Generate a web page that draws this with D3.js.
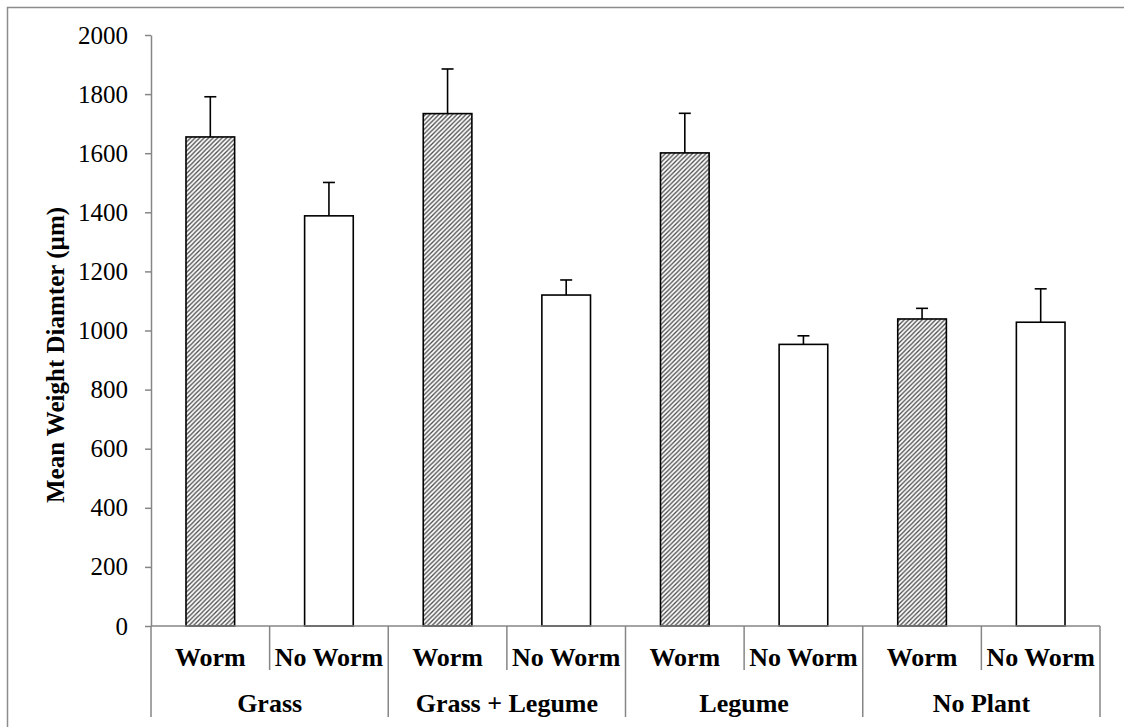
<!DOCTYPE html>
<html>
<head>
<meta charset="utf-8">
<title>Mean Weight Diameter</title>
<script src="https://cdn.jsdelivr.net/npm/d3@7"></script>
<style>
  body { margin: 0; background: #fff; }
  text { font-family: "Liberation Serif", "Times New Roman", serif; fill: #000; }
</style>
</head>
<body>
<script>
var groups = ["Grass", "Grass + Legume", "Legume", "No Plant"];
var treatments = ["Worm", "No Worm"];
var wormMean = [1655, 1734, 1601, 1039];
var wormErr = [136, 151, 134, 36];
var noWormMean = [1388, 1120, 953, 1028];
var noWormErr = [113, 51, 29, 113];
var yTicks = [0, 200, 400, 600, 800, 1000, 1200, 1400, 1600, 1800, 2000];

var W = 1124, H = 727;
var plotLeft = 151, plotRight = 1100, plotTop = 35, base = 626;

// flat rows for the bars
var rows = [];
groups.forEach(function(g, i) {
  rows.push({ group: g, t: treatments[0], key: g + "|0", mean: wormMean[i], err: wormErr[i] });
  rows.push({ group: g, t: treatments[1], key: g + "|1", mean: noWormMean[i], err: noWormErr[i] });
});

var svg = d3.select("body").append("svg")
    .attr("width", W)
    .attr("height", H);

var defs = svg.append("defs");
var pat = defs.append("pattern")
    .attr("id", "hatch")
    .attr("patternUnits", "userSpaceOnUse")
    .attr("width", 4.5)
    .attr("height", 4.5);
pat.append("rect").attr("width", 4.5).attr("height", 4.5).attr("fill", "#fff");
pat.append("path")
    .attr("d", "M-1,1 l2,-2 M0,4.5 l4.5,-4.5 M3.5,5.5 l2,-2")
    .attr("stroke", "#4a4a4a")
    .attr("stroke-width", 1.3);

// outer chart border (only left/top visible)
svg.append("rect")
    .attr("x", 7.5).attr("y", 7.5)
    .attr("width", 1140).attr("height", 740)
    .attr("fill", "none")
    .attr("stroke", "#8c8c8c")
    .attr("stroke-width", 1.5);

var y = d3.scaleLinear().domain([0, 2000]).range([base, plotTop]);
var xg = d3.scaleBand().domain(groups).range([plotLeft, plotRight]);
var x = d3.scaleBand().domain(rows.map(function(d) { return d.key; })).range([plotLeft, plotRight]);
var barW = x.bandwidth() * 0.41;

// y axis
var yAxis = d3.axisLeft(y)
    .tickValues(yTicks)
    .tickFormat(d3.format("d"))
    .tickSize(6)
    .tickSizeOuter(0)
    .tickPadding(17);

var gy = svg.append("g")
    .attr("transform", "translate(" + plotLeft + ",0)")
    .call(yAxis);
gy.selectAll("path, line").attr("stroke", "#868686").attr("stroke-width", 1.5);
gy.selectAll("text")
    .style("font-size", "25px")
    .style("font-family", "'Liberation Serif', serif")
    .attr("fill", "#000");

svg.append("text")
    .attr("transform", "translate(64,355) rotate(-90)")
    .attr("text-anchor", "middle")
    .style("font-size", "25px")
    .style("font-weight", "bold")
    .text("Mean Weight Diamter (µm)");

// bars
svg.selectAll("rect.bar")
    .data(rows)
  .enter().append("rect")
    .attr("class", "bar")
    .attr("x", function(d) { return x(d.key) + (x.bandwidth() - barW) / 2; })
    .attr("y", function(d) { return y(d.mean); })
    .attr("width", barW)
    .attr("height", function(d) { return base - y(d.mean); })
    .attr("fill", function(d) { return d.t === "Worm" ? "url(#hatch)" : "#fff"; })
    .attr("stroke", "#000")
    .attr("stroke-width", 1.6);

// error bars (upper only)
var eb = svg.selectAll("g.err")
    .data(rows)
  .enter().append("g")
    .attr("class", "err")
    .attr("transform", function(d) { return "translate(" + (x(d.key) + x.bandwidth() / 2) + ",0)"; });
eb.append("line")
    .attr("y1", function(d) { return y(d.mean); })
    .attr("y2", function(d) { return y(d.mean + d.err); })
    .attr("stroke", "#000").attr("stroke-width", 1.6);
eb.append("line")
    .attr("x1", -6).attr("x2", 6)
    .attr("y1", function(d) { return y(d.mean + d.err); })
    .attr("y2", function(d) { return y(d.mean + d.err); })
    .attr("stroke", "#000").attr("stroke-width", 1.6);

// category axis
svg.append("line")
    .attr("x1", plotLeft).attr("x2", plotRight)
    .attr("y1", base).attr("y2", base)
    .attr("stroke", "#868686").attr("stroke-width", 1.5);

// dividers between treatments
svg.selectAll("line.sub")
    .data(groups)
  .enter().append("line")
    .attr("x1", function(g) { return xg(g) + xg.bandwidth() / 2; })
    .attr("x2", function(g) { return xg(g) + xg.bandwidth() / 2; })
    .attr("y1", base).attr("y2", 670)
    .attr("stroke", "#868686").attr("stroke-width", 1.5);

// dividers between groups
var edges = groups.map(function(g) { return xg(g); }).concat([plotRight]);
svg.selectAll("line.grp")
    .data(edges)
  .enter().append("line")
    .attr("x1", function(d) { return d; })
    .attr("x2", function(d) { return d; })
    .attr("y1", base).attr("y2", 717)
    .attr("stroke", "#868686").attr("stroke-width", 1.5);

svg.selectAll("text.sub")
    .data(rows)
  .enter().append("text")
    .attr("x", function(d) { return x(d.key) + x.bandwidth() / 2; })
    .attr("y", 657)
    .attr("text-anchor", "middle")
    .attr("dominant-baseline", "central")
    .style("font-size", "26px")
    .style("font-weight", "bold")
    .text(function(d) { return d.t; });

svg.selectAll("text.grp")
    .data(groups)
  .enter().append("text")
    .attr("x", function(g) { return xg(g) + xg.bandwidth() / 2; })
    .attr("y", 703)
    .attr("text-anchor", "middle")
    .attr("dominant-baseline", "central")
    .style("font-size", "26px")
    .style("font-weight", "bold")
    .text(function(g) { return g; });
</script>
</body>
</html>
